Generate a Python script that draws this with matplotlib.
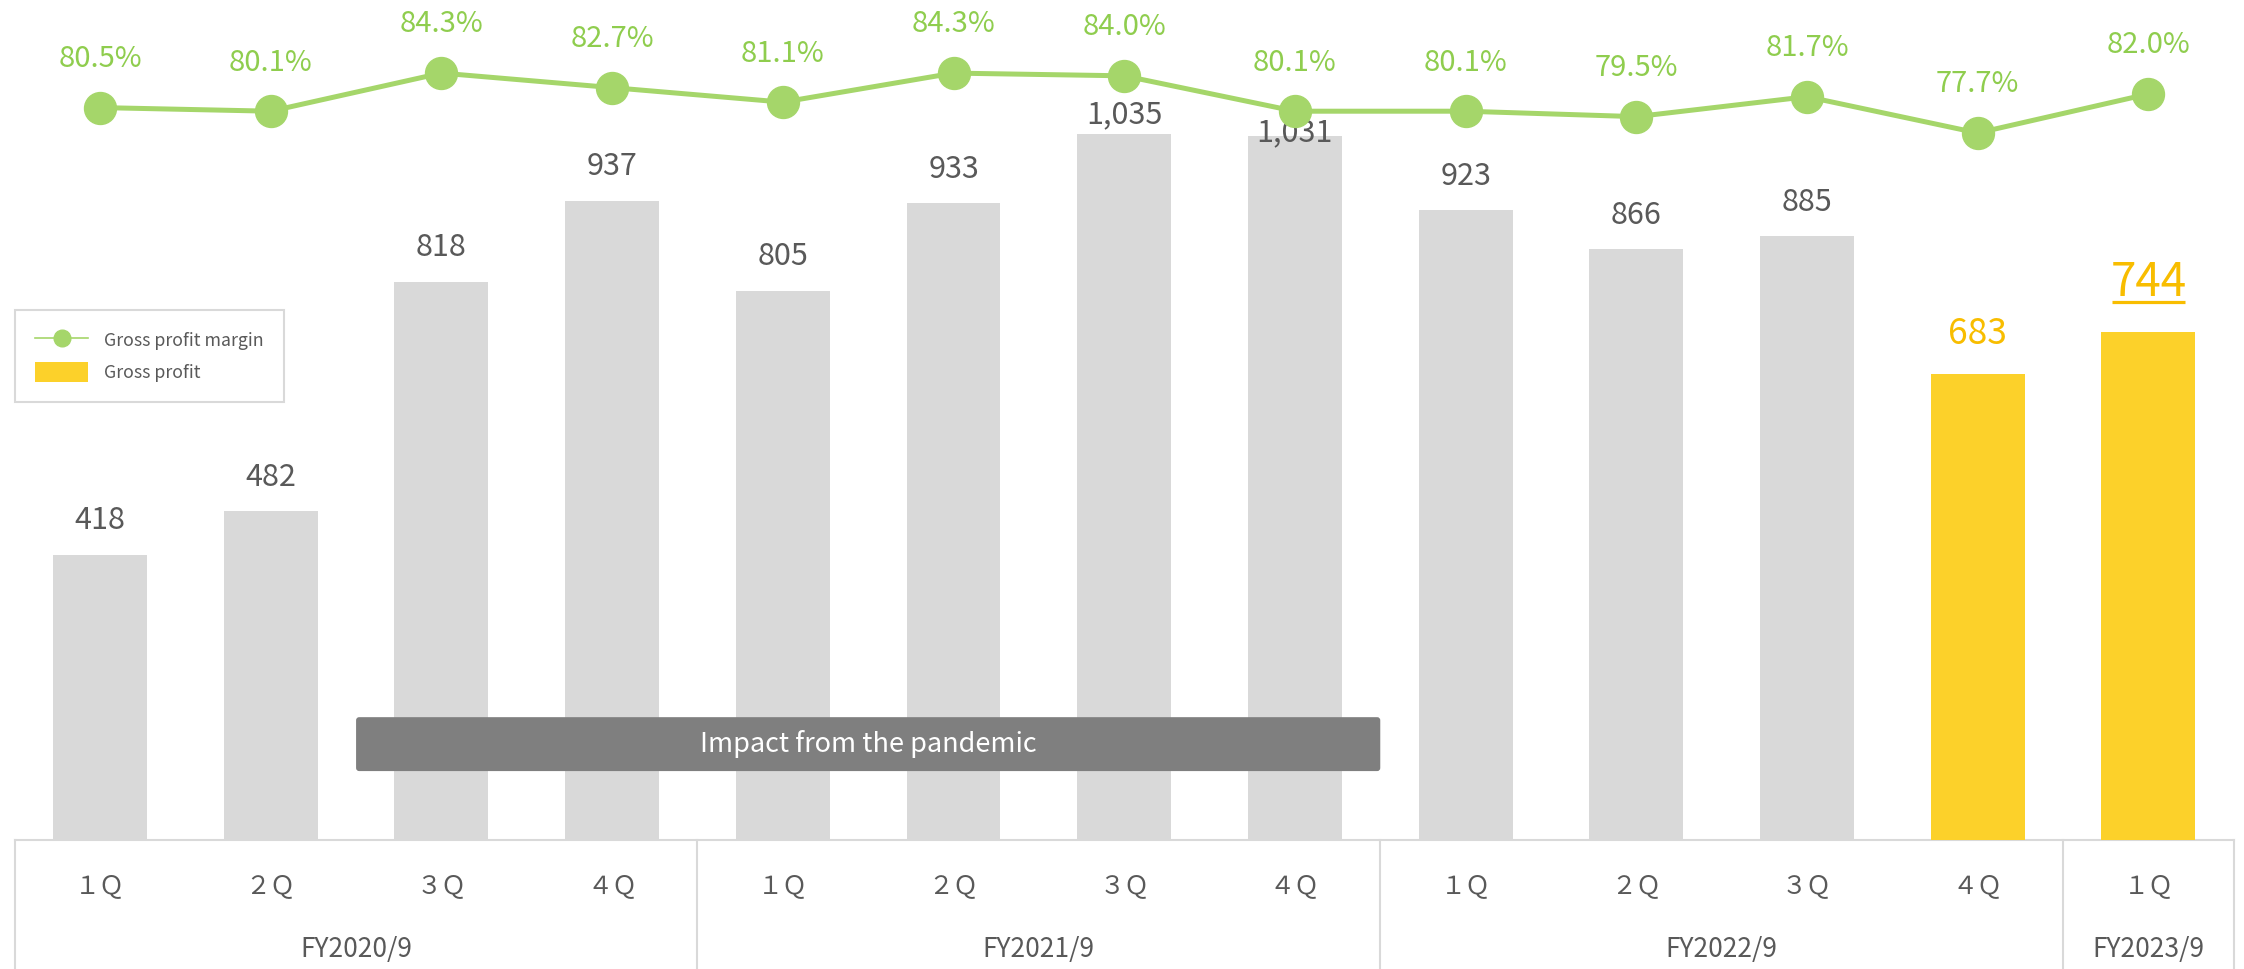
import matplotlib
matplotlib.use("Agg")
import matplotlib.pyplot as plt
import matplotlib.transforms as mtransforms
from matplotlib.lines import Line2D
from matplotlib.patches import Patch, FancyBboxPatch

plt.rcParams["font.family"] = ["Noto Sans CJK JP", "DejaVu Sans"]

# quarterly gross profit and gross profit margin
quarter_labels = ["１Ｑ", "２Ｑ", "３Ｑ", "４Ｑ",
                  "１Ｑ", "２Ｑ", "３Ｑ", "４Ｑ",
                  "１Ｑ", "２Ｑ", "３Ｑ", "４Ｑ",
                  "１Ｑ"]
fiscal_years = ["FY2020/9", "FY2021/9", "FY2022/9", "FY2023/9"]
quarters_in_year = [4, 4, 4, 1]
gross_profit = [418, 482, 818, 937, 805, 933, 1035, 1031, 923, 866, 885, 683, 744]
gross_margin = [80.5, 80.1, 84.3, 82.7, 81.1, 84.3, 84.0, 80.1, 80.1, 79.5, 81.7, 77.7, 82.0]

GREY_BAR = "#d9d9d9"
GREY_TEXT = "#595959"
YELLOW_BAR = "#fcd12a"
YELLOW_TEXT = "#f8bd00"
GREEN_LINE = "#a5d66a"
GREEN_TEXT = "#8fcd4e"
LINE_GREY = "#d9d9d9"

HIGHLIGHT_FROM = 11          # last two quarters are drawn in yellow
label_lift = {6: 14, 7: 3}   # bar labels squeezed under the margin line

fig = plt.figure(figsize=(22.44, 9.69), dpi=100)
ax = fig.add_axes([0, 129 / 969, 1, 840 / 969])

x = list(range(len(gross_profit)))
bar_colors = [YELLOW_BAR if i >= HIGHLIGHT_FROM else GREY_BAR for i in x]
ax.bar(x, gross_profit, width=0.55, color=bar_colors, zorder=2)
ax.set_xlim(-0.586, 12.56)
ax.set_ylim(0, 1231)
ax.axis("off")

# value labels on the bars
last = len(gross_profit) - 1
for i, v in enumerate(gross_profit):
    if i == last:
        size, lift, color = 33, 36, YELLOW_TEXT
    elif i >= HIGHLIGHT_FROM:
        size, lift, color = 25.5, 29, YELLOW_TEXT
    else:
        size, lift, color = 22, label_lift.get(i, 24.5), GREY_TEXT
    ax.annotate(f"{v:,}", (i, v), xytext=(0, lift), textcoords="offset points",
                ha="center", va="center", fontsize=size, color=color, zorder=4)

# underline under the latest quarter
under = mtransforms.offset_copy(ax.transData, fig=fig, x=0, y=22, units="points")
ax.plot([last - 0.215, last + 0.215], [gross_profit[last]] * 2, transform=under,
        color=YELLOW_TEXT, lw=2.3, solid_capstyle="butt", clip_on=False, zorder=4)

# pandemic banner over FY2020 3Q .. FY2021 4Q
banner = FancyBboxPatch((1.5, 101), 6.0, 79,
                        boxstyle="round,pad=0,rounding_size=0.018",
                        mutation_aspect=250, facecolor="#7f7f7f",
                        edgecolor="none", zorder=3)
ax.add_patch(banner)
ax.text(4.5, 140.5, "Impact from the pandemic", ha="center", va="center",
        fontsize=19.5, color="white", zorder=4)

# category table under the bars
trans = mtransforms.blended_transform_factory(ax.transData, ax.transAxes)
bottom = -129 / 840
ax.plot([-0.5, 12.5], [0, 0], color=LINE_GREY, lw=1.5, clip_on=False, zorder=1)
edges = [-0.5]
for n in quarters_in_year:
    edges.append(edges[-1] + n)
for e in edges:
    ax.plot([e, e], [0, bottom], transform=trans, color=LINE_GREY, lw=1.5,
            clip_on=False)
for i, q in enumerate(quarter_labels):
    ax.text(i, -46 / 840, q, transform=trans, ha="center", va="center",
            fontsize=18, color=GREY_TEXT)
for fy, left, right in zip(fiscal_years, edges[:-1], edges[1:]):
    ax.text((left + right) / 2, -110 / 840, fy, transform=trans, ha="center",
            va="center", fontsize=19, color=GREY_TEXT)

# gross profit margin on its own scale
ax2 = ax.twinx()
ax2.set_ylim(-0.25, 92.36)
ax2.axis("off")
ax2.plot(x, gross_margin, color=GREEN_LINE, lw=3.6, marker="o", ms=23, zorder=3)
for i, m in enumerate(gross_margin):
    ax2.annotate(f"{m:.1f}%", (i, m), xytext=(0, 35), textcoords="offset points",
                 ha="center", va="center", fontsize=21, color=GREEN_TEXT)

handles = [
    Line2D([], [], color=GREEN_LINE, lw=1.2, marker="o", ms=12),
    Patch(facecolor=YELLOW_BAR, edgecolor="none"),
]
leg = ax2.legend(handles, ["Gross profit margin", "Gross profit"],
                 loc="upper left", bbox_to_anchor=(15 / 2244, 1 - 310 / 969),
                 bbox_transform=fig.transFigure, borderaxespad=0,
                 fontsize=12.8, handlelength=3.0, handleheight=1.4,
                 labelcolor=GREY_TEXT, fancybox=False, edgecolor=LINE_GREY,
                 framealpha=1, borderpad=1.12, labelspacing=0.63,
                 handletextpad=0.9)
leg.get_frame().set_linewidth(1.5)

fig.savefig("out.png", dpi=100)
